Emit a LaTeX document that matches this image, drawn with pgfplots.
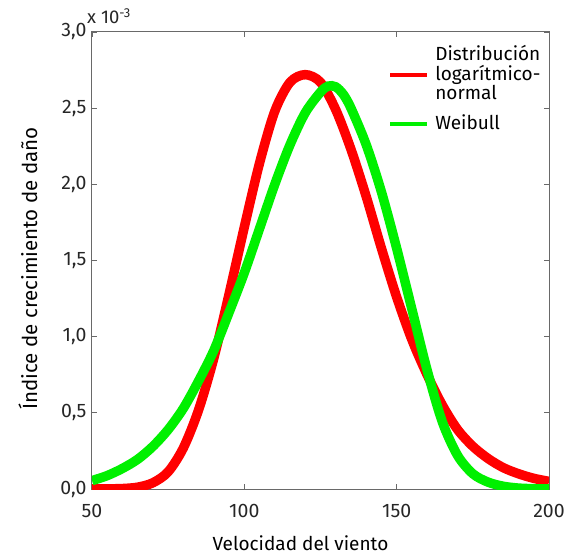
\documentclass[border=0pt]{standalone}
\usepackage{fontspec}
\setmainfont{Fira Sans}
\usepackage{pgfplots}
\pgfplotsset{compat=1.18}
\definecolor{lnred}{RGB}{255,0,0}
\definecolor{wbgreen}{RGB}{0,240,0}
\definecolor{axgray}{RGB}{105,105,105}

\begin{document}
\begin{tikzpicture}
\useasboundingbox (-92pt,-66pt) rectangle (473pt,489pt);
\begin{axis}[
    name=ax,
    at={(0pt,0pt)}, anchor=south west,
    scale only axis,
    width=457pt, height=457pt,
    xmin=50, xmax=200, ymin=0, ymax=3,
    xtick={50,100,150,200},
    ytick={0,0.5,1,1.5,2,2.5,3},
    tick align=inside,
    major tick length=5pt,
    axis line style={axgray, line width=1pt},
    every tick/.style={axgray, line width=0.8pt},
    tick label style={font=\fontsize{19.5}{22}\selectfont, text=black!85},
    /pgf/number format/assume math mode=true,
    xticklabel style={yshift=-12pt},
    yticklabel style={xshift=-2pt, /pgf/number format/.cd, fixed, fixed zerofill, precision=1, use comma},
    xlabel={Velocidad del viento},
    ylabel={Índice de crecimiento de daño},
    every axis x label/.style={at={(axis description cs:0.5,0)}, anchor=center, xshift=-20pt, yshift=-54pt, font=\fontsize{19}{22}\selectfont},
    every axis y label/.style={at={(axis description cs:0,0.5)}, xshift=-64pt, yshift=-8pt, rotate=90, anchor=center, font=\fontsize{20.5}{24}\selectfont},
    legend style={at={(rel axis cs:0.648,0.972)}, anchor=north west, draw=none, fill=none,
        font=\fontsize{19}{19}\selectfont, row sep=0pt, column sep=0pt, inner sep=0pt,
        nodes={inner sep=0pt, text height=, text depth=}},
    legend cell align=left,
    legend image code/.code={\draw[#1, line width=4pt] (0pt,0pt) -- (37pt,0pt);},
]
\addlegendimage{empty legend}
\addlegendentry{\rule[-5pt]{0pt}{18.5pt}\hspace{6pt}Distribución}
% Distribucion logaritmico-normal
\addplot[lnred, line width=9.5pt, smooth] coordinates {
(50,0.000) (55,0.001) (60,0.003) (65,0.012) (70,0.041) (75,0.113)
(80,0.27) (85,0.52) (90,0.86) (95,1.28) (100,1.72) (105,2.14)
(110,2.48) (115,2.67) (120,2.72) (125,2.67) (130,2.49)
(135,2.23) (140,1.92) (145,1.58) (150,1.26) (155,0.98) (160,0.75)
(165,0.55) (170,0.39) (175,0.28) (180,0.20) (185,0.14) (190,0.10)
(195,0.07) (200,0.05)};
\addlegendentry{\rule[-5pt]{0pt}{18.5pt}\hspace{6pt}logarítmico-}
\addlegendimage{empty legend}
\addlegendentry{\rule[-14.5pt]{0pt}{28pt}\hspace{6pt}normal}
% Weibull
\addplot[wbgreen, line width=9.5pt, smooth] coordinates {
(50,0.055) (55,0.088) (60,0.135) (65,0.195) (70,0.28) (75,0.39)
(80,0.53) (85,0.71) (90,0.91) (95,1.16) (100,1.42) (105,1.71)
(110,2.00) (115,2.26) (120,2.47) (125,2.605) (127.5,2.645) (130,2.64)
(132.5,2.59) (135,2.50) (140,2.26) (145,1.95) (150,1.58) (155,1.18)
(160,0.78) (165,0.44) (170,0.22) (175,0.10) (180,0.045) (185,0.018)
(190,0.006) (195,0.002) (200,0.000)};
\addlegendentry{\rule[-5pt]{0pt}{18.5pt}\hspace{6pt}Weibull}
\end{axis}
\node[anchor=south west, inner sep=0pt, font=\fontsize{18.5}{20}\selectfont, text=black!85]
    at ([xshift=-5pt, yshift=8pt]ax.north west) {x 10\textsuperscript{-3}};
\end{tikzpicture}
\end{document}
